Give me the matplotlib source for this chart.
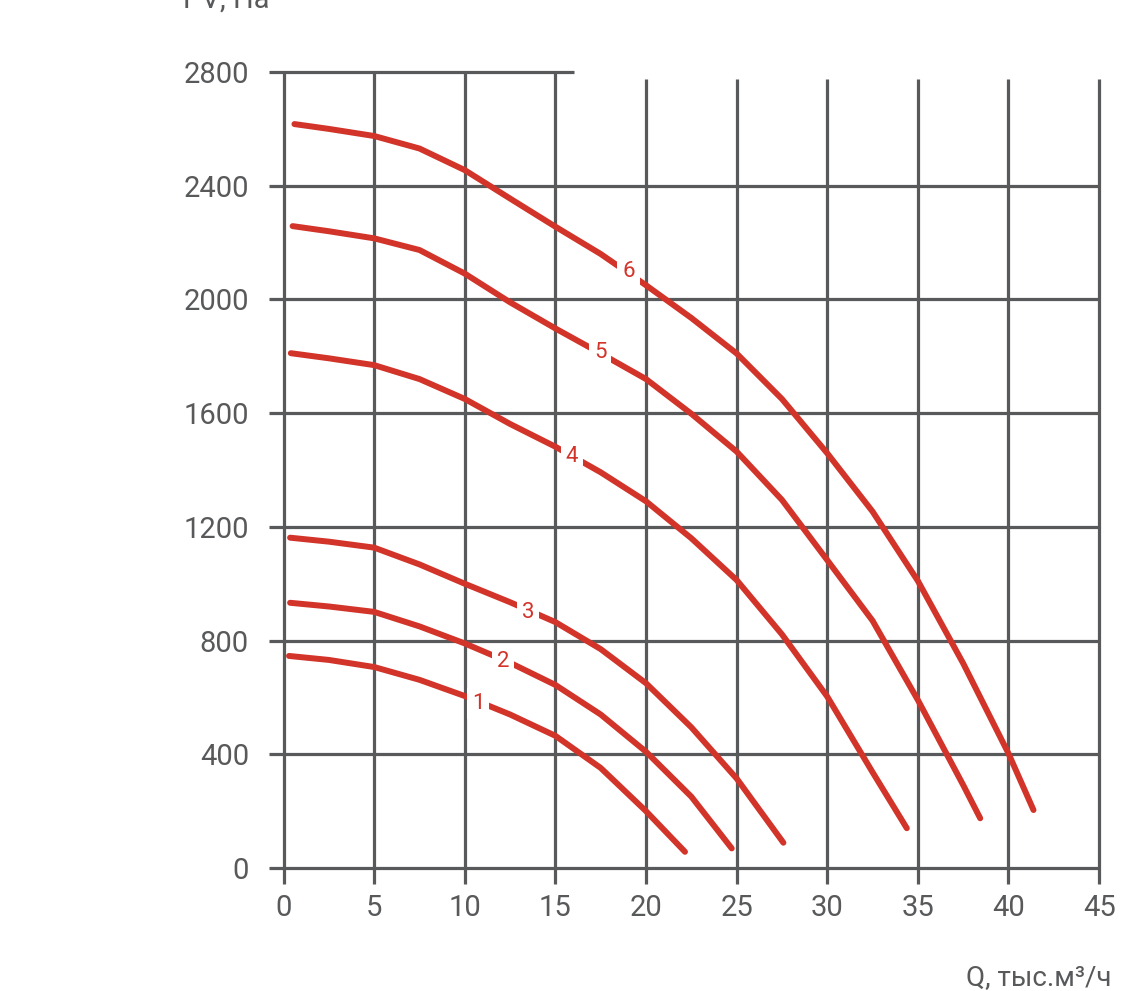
import matplotlib
matplotlib.use("Agg")
import matplotlib.pyplot as plt

plt.rcParams['font.family'] = ['Roboto', 'DejaVu Sans']

# fan curves: Q (thousand m3/h) and Pv (Pa)
q1 = [0.3, 2.5, 5, 7.5, 10, 12.5, 15, 17.5, 20, 22.15]
p1 = [746, 732, 707, 662, 605, 540, 465, 352, 200, 57]

q2 = [0.36, 2.5, 5, 7.5, 10, 12.5, 15, 17.5, 20, 22.5, 24.73]
p2 = [933, 920, 901, 850, 790, 722, 644, 540, 409, 251, 69]

q3 = [0.36, 2.5, 5, 7.5, 10, 12.5, 15, 17.5, 20, 22.5, 25, 27.58]
p3 = [1162, 1148, 1127, 1068, 1000, 935, 865, 770, 650, 495, 315, 89]

q4 = [0.4, 2.5, 5, 7.5, 10, 12.5, 15, 17.5, 20, 22.5, 25, 27.5, 30, 32.5, 34.39]
p4 = [1811, 1793, 1769, 1720, 1650, 1562, 1482, 1392, 1290, 1160, 1013, 822, 603, 337, 140]

q5 = [0.5, 2.5, 5, 7.5, 10, 12.5, 15, 17.5, 20, 22.5, 25, 27.5, 30, 32.5, 35, 37.5, 38.44]
p5 = [2258, 2240, 2215, 2174, 2091, 1990, 1898, 1810, 1720, 1598, 1465, 1295, 1083, 870,
      591, 292, 175]

q6 = [0.6, 2.5, 5, 7.5, 10, 12.5, 15, 17.5, 20, 22.5, 25, 27.5, 30, 32.5, 35, 37.5, 40, 41.38]
p6 = [2617, 2600, 2575, 2531, 2455, 2355, 2256, 2160, 2050, 1935, 1810, 1650, 1459, 1254,
      1010, 720, 403, 204]

curve_names = ['1', '2', '3', '4', '5', '6']
label_q = [10.73, 12.1, 13.5, 15.92, 17.47, 19.03]
label_p = [578, 725, 900, 1449, 1815, 2100]

x_ticks = [0, 5, 10, 15, 20, 25, 30, 35, 40, 45]
y_ticks = [0, 400, 800, 1200, 1600, 2000, 2400, 2800]

grid_col = '#58595b'
red = '#d2342a'

fig = plt.figure(figsize=(11.48, 9.91), dpi=100)
ax = fig.add_axes([0.247, 0.1241, 0.7104, 0.8032])
ax.set_xlim(0, 45)
ax.set_ylim(0, 2800)

# grid drawn by hand (it sticks out of the axes, and is cut at the top right)
for y in y_ticks:
    x_end = 16.0 if y == 2800 else 45
    ax.hlines(y, -0.8, x_end, color=grid_col, lw=2.3, clip_on=False, zorder=1)
for x in x_ticks:
    y_top = 2800 if x < 20 else 2775
    ax.vlines(x, -55, y_top, color=grid_col, lw=2.3, clip_on=False, zorder=1)

for q, p in [(q1, p1), (q2, p2), (q3, p3), (q4, p4), (q5, p5), (q6, p6)]:
    ax.plot(q, p, color=red, lw=4.3, solid_capstyle='round',
            solid_joinstyle='round', zorder=3)

for name, lq, lp in zip(curve_names, label_q, label_p):
    ax.text(lq, lp, name, color=red, fontsize=16, ha='center', va='center',
            zorder=4, bbox=dict(boxstyle='square,pad=0.22', fc='white', ec='none'))

for s in ax.spines.values():
    s.set_visible(False)
ax.set_xticks(x_ticks)
ax.set_yticks(y_ticks)
ax.tick_params(length=0, labelsize=21, labelcolor=grid_col)
ax.tick_params(axis='x', pad=19)
ax.tick_params(axis='y', pad=25)

fig.text(183 / 1148, 1 - 8 / 991, 'PV, Па', fontsize=21, color=grid_col,
         ha='left', va='baseline')
fig.text(1112 / 1148, 1 - 985 / 991, 'Q, тыс.м³/ч', fontsize=20, color=grid_col,
         ha='right', va='baseline')

fig.savefig('out.png', dpi=100, facecolor='white')
